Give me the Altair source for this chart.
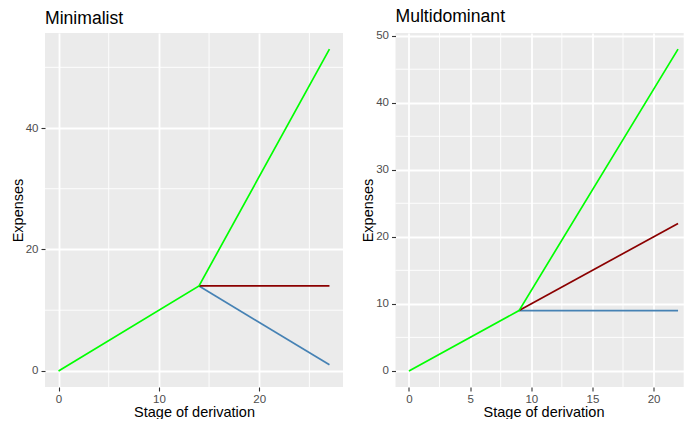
import altair as alt
import pandas as pd

# ---- data ----
series_names = ["blue", "red", "green"]
colors = ["#4682B4", "#8B0000", "#00FF00"]

# Minimalist panel
min_green_x = [0, 14, 27]
min_green_y = [0, 14, 53]
min_red_x = [14, 27]
min_red_y = [14, 14]
min_blue_x = [14, 27]
min_blue_y = [14, 1]

# Multidominant panel
mul_green_x = [0, 9, 22]
mul_green_y = [0, 9, 48]
mul_red_x = [9, 22]
mul_red_y = [9, 22]
mul_blue_x = [9, 22]
mul_blue_y = [9, 9]

min_x_major = [0, 10, 20]
min_x_minor = [5, 15, 25]
min_y_major = [0, 20, 40]
min_y_minor = [10, 30, 50]

mul_x_major = [0, 5, 10, 15, 20]
mul_x_minor = [2.5, 7.5, 12.5, 17.5, 22.5]
mul_y_major = [0, 10, 20, 30, 40, 50]
mul_y_minor = [5, 15, 25, 35, 45]

FONT = "Liberation Sans"


def make_df(gx, gy, rx, ry, bx, by):
    rows = []
    for i, (x, y) in enumerate(zip(bx, by)):
        rows.append({"s": "blue", "x": x, "y": y, "o": i})
    for i, (x, y) in enumerate(zip(rx, ry)):
        rows.append({"s": "red", "x": x, "y": y, "o": i})
    for i, (x, y) in enumerate(zip(gx, gy)):
        rows.append({"s": "green", "x": x, "y": y, "o": i})
    return pd.DataFrame(rows)


def expand(lo, hi):
    d = (hi - lo) * 0.05
    return [lo - d, hi + d]


def panel(title, df, xdom, ydom, xmaj, xmin, ymaj, ymin, w, h):
    xs = alt.Scale(domain=xdom, nice=False, zero=False)
    ys = alt.Scale(domain=ydom, nice=False, zero=False)
    xaxis = alt.Axis(values=xmaj, title="Stage of derivation", grid=True,
                     labelPadding=2.5, titlePadding=0.5)
    yaxis = alt.Axis(values=ymaj, title="Expenses", grid=True,
                     labelPadding=3, titlePadding=0)

    vminor = alt.Chart(pd.DataFrame({"v": xmin})).mark_rule(
        color="white", strokeWidth=0.9).encode(x=alt.X("v:Q", scale=xs, axis=xaxis))
    hminor = alt.Chart(pd.DataFrame({"v": ymin})).mark_rule(
        color="white", strokeWidth=0.9).encode(y=alt.Y("v:Q", scale=ys, axis=yaxis))
    lines = []
    for s in series_names:
        sub = df[df["s"] == s]
        lines.append(
            alt.Chart(sub).mark_line(strokeWidth=1.7).encode(
                x=alt.X("x:Q", scale=xs, axis=xaxis),
                y=alt.Y("y:Q", scale=ys, axis=yaxis),
                color=alt.Color("s:N", scale=alt.Scale(domain=series_names, range=colors), legend=None),
                order="o:Q",
            )
        )
    return alt.layer(vminor, hminor, *lines).properties(
        width=w, height=h,
        title=alt.TitleParams(title, anchor="start", frame="group", fontSize=17.6,
                              font=FONT, fontWeight="normal", color="black", offset=4.5),
    )


df_min = make_df(min_green_x, min_green_y, min_red_x, min_red_y, min_blue_x, min_blue_y)
df_mul = make_df(mul_green_x, mul_green_y, mul_red_x, mul_red_y, mul_blue_x, mul_blue_y)

left = panel("Minimalist", df_min, expand(0, 27), expand(0, 53),
             min_x_major, min_x_minor, min_y_major, min_y_minor, 298, 354)
right = panel("Multidominant", df_mul, expand(0, 22), expand(0, 48),
              mul_x_major, mul_x_minor, mul_y_major, mul_y_minor, 296, 354)

chart = alt.hconcat(left, right, spacing=16.5).properties(
    padding={"left": 2, "top": -1, "right": -8, "bottom": 0}
).configure_view(
    fill="#EBEBEB", strokeWidth=0
).configure_axis(
    gridColor="white", gridWidth=1.8, domain=False,
    tickColor="#333333", tickSize=4, tickWidth=1.1,
    labelColor="#4D4D4D", labelFontSize=11.5, labelFont=FONT,
    titleFont=FONT, titleFontSize=14.5, titleFontWeight="normal", titleColor="black",
)

chart.save("out.html", embed_options={"renderer": "svg", "actions": False})
